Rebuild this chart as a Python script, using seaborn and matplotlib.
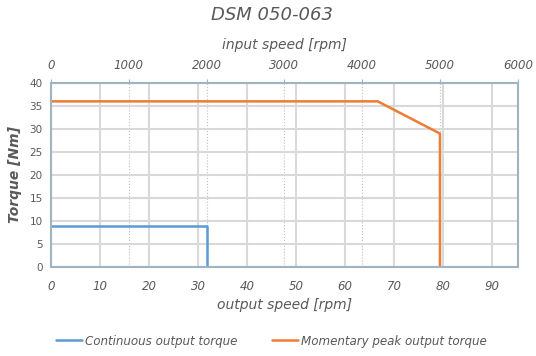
import pandas as pd
import numpy as np
import matplotlib
matplotlib.use('Agg')
import matplotlib.pyplot as plt
import seaborn as sns

# данные (выходная скорость в об/мин, момент в Нм)
ratio = 63  # передаточное отношение: input = output * 63
cont_speed = [0, 2000 / 63, 2000 / 63]
cont_torque = [9, 9, 0]
peak_speed = [0, 4200 / 63, 5000 / 63, 5000 / 63]
peak_torque = [36, 36, 29, 0]
series_names = ['Continuous output torque', 'Momentary peak output torque']
series_colors = ['#5B9BD5', '#ED7D31']

df = pd.concat([
    pd.DataFrame({'speed': cont_speed, 'torque': cont_torque, 'series': series_names[0]}),
    pd.DataFrame({'speed': peak_speed, 'torque': peak_torque, 'series': series_names[1]}),
], ignore_index=True)

sns.set_style('white')
plt.rcParams['font.family'] = ['DejaVu Sans']
text_col = '#595959'

fig = plt.figure(figsize=(5.36, 3.56), dpi=100)
ax = fig.add_axes([0.095, 0.25, 0.871, 0.517])

ax.set_axisbelow(True)
ax.grid(True, color='#D9D9D9', linewidth=1.5)

sns.lineplot(data=df, x='speed', y='torque', hue='series', palette=series_colors,
             sort=False, estimator=None, linewidth=1.8, ax=ax, legend=True)

ax.set_xlim(0, 6000 / ratio)
ax.set_ylim(0, 40)
ax.set_xticks(np.arange(0, 100, 10))
ax.set_yticks(np.arange(0, 45, 5))
ax.tick_params(axis='x', labelsize=8.5, colors=text_col, length=0, pad=9)
ax.tick_params(axis='y', labelsize=7.5, colors=text_col, length=0, pad=6)
for lbl in ax.get_xticklabels():
    lbl.set_fontstyle('italic')
for s in ax.spines.values():
    s.set_color('#9FB3C3')
    s.set_linewidth(1.5)

ax.set_xlabel('output speed [rpm]', fontsize=10, style='italic', color=text_col, labelpad=4)
ax.set_ylabel('Torque [Nm]', fontsize=10, style='italic', fontweight='bold', color=text_col, labelpad=5)

# верхняя ось - входная скорость
top = ax.secondary_xaxis('top', functions=(lambda x: x * ratio, lambda x: x / ratio))
top.set_xticks(np.arange(0, 7000, 1000))
top.tick_params(labelsize=8.5, colors=text_col, length=3, pad=5)
top.tick_params(axis='x', color='#9FB3C3')
for lbl in top.get_xticklabels():
    lbl.set_fontstyle('italic')
top.set_xlabel('input speed [rpm]', fontsize=10, style='italic', color=text_col, labelpad=7)
top.spines['top'].set_visible(False)

# пунктирные линии для входной скорости
for v in np.arange(1000, 6000, 1000):
    ax.axvline(v / ratio, color='#BFBFBF', linestyle=':', linewidth=0.8, zorder=0.5)

# заголовок
fig.text(0.507, 0.958, 'DSM 050-063', fontsize=13, style='italic', color=text_col,
         ha='center', va='center')

handles, labels = ax.get_legend_handles_labels()
ax.get_legend().remove()
leg = fig.legend(handles, labels, loc='center', bbox_to_anchor=(0.506, 0.042), ncol=2, frameon=False,
                 fontsize=8.6, handlelength=2.2, handletextpad=0.25, columnspacing=2.9)
for t in leg.get_texts():
    t.set_fontstyle('italic')
    t.set_color(text_col)

fig.savefig('out.png', dpi=100)
